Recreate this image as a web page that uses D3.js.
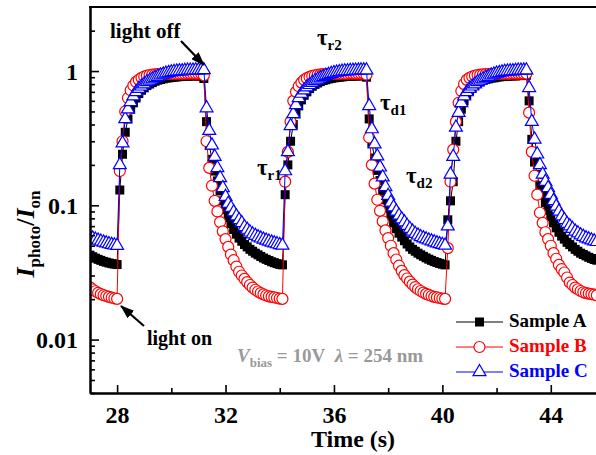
<!DOCTYPE html>
<html>
<head>
<meta charset="utf-8">
<script src="https://cdn.jsdelivr.net/npm/d3@7"></script>
<style>
  html, body { margin: 0; padding: 0; background: #fff; }
  svg { display: block; }
  text { font-family: "Liberation Serif", "Times New Roman", serif; font-weight: bold; }
</style>
</head>
<body>
<div id="chart"></div>
<script>
// time (s), one reading every 0.1 s
const time = [
  27.0,27.1,27.2,27.3,27.4,27.5,27.6,27.7,27.8,27.9,28.0,
  28.1,28.2,28.3,28.4,28.5,28.6,28.7,28.8,28.9,29.0,29.1,29.2,29.3,29.4,29.5,29.6,29.7,29.8,29.9,30.0,
  30.1,30.2,30.3,30.4,30.5,30.6,30.7,30.8,30.9,31.0,31.1,31.2,
  31.3,31.4,31.5,31.6,31.7,31.8,31.9,32.0,32.1,32.2,32.3,32.4,32.5,32.6,32.7,32.8,32.9,33.0,
  33.1,33.2,33.3,33.4,33.5,33.6,33.7,33.8,33.9,34.0,34.1,
  34.2,34.3,34.4,34.5,34.6,34.7,34.8,34.9,35.0,35.1,35.2,35.3,35.4,35.5,35.6,35.7,35.8,35.9,36.0,
  36.1,36.2,36.3,36.4,36.5,36.6,36.7,36.8,36.9,37.0,37.1,37.2,
  37.3,37.4,37.5,37.6,37.7,37.8,37.9,38.0,38.1,38.2,38.3,38.4,38.5,38.6,38.7,38.8,38.9,39.0,
  39.1,39.2,39.3,39.4,39.5,39.6,39.7,39.8,39.9,40.0,40.1,
  40.2,40.3,40.4,40.5,40.6,40.7,40.8,40.9,41.0,41.1,41.2,41.3,41.4,41.5,41.6,41.7,41.8,41.9,42.0,
  42.1,42.2,42.3,42.4,42.5,42.6,42.7,42.8,42.9,43.0,43.1,
  43.2,43.3,43.4,43.5,43.6,43.7,43.8,43.9,44.0,44.1,44.2,44.3,44.4,44.5,44.6,44.7,44.8,44.9,45.0,
  45.1,45.2,45.3,45.4,45.5,45.6,45.7
];

// I_photo / I_on for each sample
const sampleA = [
  0.0425,0.0414,0.0404,0.0396,0.0389,0.0382,0.0377,0.0372,0.0368,0.0365,0.0362,
  0.13,0.24,0.35,0.44,0.52,0.58,0.63,0.68,0.72,0.75,0.78,0.80,0.82,0.84,0.855,0.865,0.875,0.885,0.89,0.895,
  0.90,0.905,0.91,0.91,0.915,0.915,0.92,0.92,0.92,0.92,0.92,0.88,
  0.42,0.28,0.22,0.18,0.152,0.128,0.108,0.093,0.081,0.073,0.066,0.061,0.057,0.054,0.051,0.049,0.047,0.0455,
  0.044,0.0428,0.0416,0.0405,0.0396,0.0388,0.038,0.0374,0.0368,0.0363,0.036,
  0.12,0.2,0.3,0.4,0.48,0.55,0.61,0.66,0.7,0.74,0.77,0.795,0.815,0.835,0.85,0.862,0.873,0.882,0.89,
  0.895,0.9,0.905,0.91,0.912,0.915,0.918,0.92,0.92,0.922,0.922,0.9,
  0.44,0.29,0.225,0.182,0.153,0.129,0.11,0.095,0.083,0.074,0.067,0.062,0.058,0.0545,0.0515,0.049,0.047,0.0455,
  0.044,0.0428,0.0417,0.0406,0.0397,0.0389,0.0381,0.0375,0.0369,0.0364,0.036,
  0.078,0.108,0.15,0.3,0.42,0.52,0.6,0.66,0.71,0.75,0.78,0.81,0.83,0.85,0.865,0.875,0.885,0.89,0.9,
  0.905,0.91,0.91,0.915,0.92,0.92,0.92,0.925,0.925,0.93,0.93,
  0.6,0.31,0.21,0.17,0.14,0.12,0.105,0.092,0.082,0.074,0.068,0.063,0.059,0.056,0.053,0.051,0.049,0.047,0.0455,
  0.044,0.043,0.042,0.041,0.0402,0.0395,0.039
];
const sampleB = [
  0.0245,0.0236,0.0229,0.0223,0.0218,0.0214,0.0211,0.0208,0.0205,0.0203,0.0201,
  0.18,0.3,0.5,0.63,0.72,0.78,0.83,0.86,0.89,0.91,0.925,0.935,0.94,0.945,0.948,0.95,0.952,0.953,0.954,0.955,
  0.955,0.955,0.956,0.956,0.956,0.957,0.957,0.957,0.957,0.957,0.957,0.93,
  0.3,0.19,0.14,0.108,0.09,0.075,0.064,0.056,0.049,0.043,0.039,0.035,0.032,0.03,0.0283,0.0268,0.0255,0.0244,
  0.0235,0.0228,0.0222,0.0217,0.0213,0.021,0.0208,0.0206,0.0204,0.0202,0.0201,
  0.15,0.25,0.42,0.6,0.7,0.77,0.82,0.86,0.885,0.905,0.92,0.93,0.938,0.944,0.948,0.95,0.952,0.953,0.954,
  0.955,0.955,0.956,0.956,0.956,0.957,0.957,0.957,0.957,0.957,0.957,0.94,
  0.32,0.2,0.145,0.11,0.091,0.076,0.065,0.057,0.05,0.044,0.0395,0.0355,0.0325,0.0302,0.0285,0.027,0.0257,0.0246,
  0.0237,0.023,0.0224,0.0219,0.0215,0.0211,0.0208,0.0206,0.0204,0.0202,0.0201,
  0.048,0.15,0.26,0.42,0.58,0.71,0.8,0.86,0.89,0.91,0.925,0.935,0.94,0.945,0.948,0.95,0.952,0.953,0.954,
  0.955,0.955,0.956,0.956,0.956,0.957,0.957,0.957,0.957,0.957,0.957,
  0.49,0.25,0.166,0.12,0.088,0.074,0.063,0.056,0.05,0.044,0.04,0.036,0.0335,0.0316,0.029,0.0266,0.0255,0.0244,0.0237,
  0.023,0.0225,0.0222,0.022,0.0218,0.0216,0.0214
];
const sampleC = [
  0.058,0.0568,0.0557,0.0547,0.0538,0.053,0.0522,0.0515,0.0509,0.0504,0.05,
  0.2,0.29,0.44,0.52,0.59,0.65,0.7,0.74,0.77,0.8,0.83,0.85,0.87,0.89,0.91,0.93,0.945,0.96,0.97,0.98,
  0.99,0.995,1.0,1.0,1.005,1.01,1.01,1.01,1.015,1.015,1.015,1.02,
  0.53,0.36,0.28,0.23,0.19,0.16,0.135,0.116,0.103,0.096,0.089,0.083,0.078,0.074,0.069,0.066,0.063,0.061,
  0.0595,0.058,0.0568,0.0557,0.0547,0.0538,0.053,0.0522,0.0515,0.0508,0.0502,
  0.18,0.25,0.39,0.48,0.56,0.63,0.68,0.72,0.76,0.79,0.82,0.845,0.865,0.885,0.905,0.925,0.94,0.955,0.967,
  0.977,0.986,0.993,0.998,1.0,1.005,1.008,1.01,1.012,1.014,1.015,1.015,
  0.55,0.37,0.285,0.232,0.192,0.162,0.137,0.118,0.105,0.097,0.09,0.084,0.079,0.075,0.0705,0.067,0.064,0.0615,
  0.0598,0.0582,0.057,0.0559,0.0549,0.054,0.0531,0.0523,0.0516,0.0509,0.0503,
  0.07,0.17,0.23,0.38,0.49,0.58,0.65,0.7,0.74,0.77,0.8,0.83,0.85,0.87,0.89,0.91,0.93,0.945,0.96,
  0.97,0.98,0.99,0.995,1.0,1.0,1.005,1.01,1.01,1.012,1.015,
  0.75,0.42,0.31,0.24,0.2,0.17,0.15,0.135,0.12,0.108,0.098,0.09,0.083,0.078,0.073,0.07,0.067,0.064,0.062,
  0.06,0.0585,0.057,0.056,0.055,0.054,0.0535
];

const seriesNames = ["Sample A", "Sample B", "Sample C"];
const seriesColors = ["#000000", "#ff0000", "#0000ff"];
const xTicks = [28, 32, 36, 40, 44];
const xMinorTicks = [30, 34, 38, 42];
const yTicks = [0.01, 0.1, 1];
const yTickLabels = ["0.01", "0.1", "1"];
const yMinorTicks = [0.004,0.005,0.006,0.007,0.008,0.009,
                     0.02,0.03,0.04,0.05,0.06,0.07,0.08,0.09,
                     0.2,0.3,0.4,0.5,0.6,0.7,0.8,0.9,2];

const W = 596, H = 455;
const plotLeft = 90, plotTop = 7, plotBottom = 393;

const svg = d3.select("#chart").append("svg")
    .attr("width", W)
    .attr("height", H);

svg.append("rect").attr("width", W).attr("height", H).attr("fill", "#fff");

// scales
const x = d3.scaleLinear().domain([27, 46]).range([plotLeft, 605]);
const y = d3.scaleLog().domain([0.004, 3]).range([plotBottom, plotTop]);

const defs = svg.append("defs");
defs.append("clipPath").attr("id", "plot-clip")
    .append("rect")
    .attr("x", plotLeft).attr("y", plotTop)
    .attr("width", W - plotLeft).attr("height", plotBottom - plotTop);

// arrow head
defs.append("marker")
    .attr("id", "arrow")
    .attr("markerUnits", "userSpaceOnUse")
    .attr("markerWidth", 14).attr("markerHeight", 10)
    .attr("refX", 13).attr("refY", 5)
    .attr("orient", "auto")
    .append("path")
    .attr("d", "M0,0 L14,5 L0,10 Z")
    .attr("fill", "#000");

// data
const series = [sampleA, sampleB, sampleC].map((vals, i) => ({
    name: seriesNames[i],
    color: seriesColors[i],
    points: vals.map((v, j) => ({ t: time[j], v: v }))
}));

const line = d3.line()
    .x(d => x(d.t))
    .y(d => y(d.v));

const plot = svg.append("g").attr("clip-path", "url(#plot-clip)");

const triangle = d3.symbol().type(d3.symbolTriangle).size(72);

function drawMarker(sel, i) {
    if (i === 0) {
        sel.append("rect")
            .attr("x", -4.5).attr("y", -4.5)
            .attr("width", 9).attr("height", 9)
            .attr("fill", "#000");
    } else if (i === 1) {
        sel.append("circle")
            .attr("r", 5.5)
            .attr("fill", "#fff")
            .attr("stroke", seriesColors[1])
            .attr("stroke-width", 1.2);
    } else {
        sel.append("path")
            .attr("d", triangle())
            .attr("fill", "#fff")
            .attr("stroke", seriesColors[2])
            .attr("stroke-width", 1.2);
    }
}

series.forEach((s, i) => {
    const g = plot.append("g");
    g.append("path")
        .attr("d", line(s.points))
        .attr("fill", "none")
        .attr("stroke", s.color)
        .attr("stroke-width", 1);
    g.selectAll(".pt")
        .data(s.points)
        .enter()
        .append("g")
        .attr("class", "pt")
        .attr("transform", d => "translate(" + x(d.t) + "," + y(d.v) + ")")
        .each(function () { drawMarker(d3.select(this), i); });
});

// axes
svg.append("g")
    .attr("transform", "translate(0," + plotBottom + ")")
    .call(d3.axisBottom(x).tickValues(xTicks).tickSize(-8).tickSizeOuter(0).tickPadding(13));
svg.append("g")
    .attr("transform", "translate(0," + plotBottom + ")")
    .call(d3.axisBottom(x).tickValues(xMinorTicks).tickSize(-5).tickSizeOuter(0).tickFormat(""));

const yAxis = svg.append("g")
    .attr("transform", "translate(" + plotLeft + ",0)")
    .call(d3.axisLeft(y).tickValues(yTicks).tickSize(-9).tickSizeOuter(0).tickPadding(12)
        .tickFormat((d, i) => yTickLabels[i]));
svg.append("g")
    .attr("transform", "translate(" + plotLeft + ",0)")
    .call(d3.axisLeft(y).tickValues(yMinorTicks).tickSize(-5).tickSizeOuter(0).tickFormat(""));

svg.selectAll(".domain").attr("stroke", "#000").attr("stroke-width", 2);
svg.selectAll(".tick line").attr("stroke", "#000").attr("stroke-width", 1.6);
svg.selectAll(".tick text")
    .attr("font-family", "'Liberation Serif', 'Times New Roman', serif")
    .attr("font-weight", "bold")
    .attr("font-size", 24)
    .attr("fill", "#000");
yAxis.selectAll(".tick text").attr("dy", "0.34em");

// top frame line
svg.append("line")
    .attr("x1", plotLeft - 1).attr("x2", W)
    .attr("y1", plotTop).attr("y2", plotTop)
    .attr("stroke", "#000").attr("stroke-width", 2);

// axis titles
svg.append("text")
    .attr("x", 353).attr("y", 447)
    .attr("text-anchor", "middle")
    .attr("font-size", 24)
    .text("Time (s)");

const yTitle = svg.append("text")
    .attr("transform", "translate(34,234) rotate(-90)")
    .attr("text-anchor", "middle")
    .attr("font-size", 26);
yTitle.append("tspan").attr("font-style", "italic").text("I");
yTitle.append("tspan").attr("font-size", 17).attr("dy", 6).text("photo");
yTitle.append("tspan").attr("dy", -6).text("/");
yTitle.append("tspan").attr("font-style", "italic").text("I");
yTitle.append("tspan").attr("font-size", 17).attr("dy", 6).text("on");

// annotations
svg.append("text").attr("x", 110).attr("y", 38).attr("font-size", 21).text("light off");
svg.append("line")
    .attr("x1", 181).attr("y1", 41).attr("x2", 204).attr("y2", 65)
    .attr("stroke", "#000").attr("stroke-width", 2.2)
    .attr("marker-end", "url(#arrow)");

svg.append("text").attr("x", 147).attr("y", 345).attr("font-size", 20).text("light on");
svg.append("line")
    .attr("x1", 144).attr("y1", 326).attr("x2", 121).attr("y2", 306)
    .attr("stroke", "#000").attr("stroke-width", 2.2)
    .attr("marker-end", "url(#arrow)");

const tauLabels = [
    { sub: "r1", x: 257, y: 175 },
    { sub: "r2", x: 317, y: 45 },
    { sub: "d1", x: 380, y: 110 },
    { sub: "d2", x: 406, y: 183 }
];
tauLabels.forEach(d => {
    const t = svg.append("text").attr("x", d.x).attr("y", d.y).attr("font-size", 23);
    t.append("tspan").text("\u03c4");
    t.append("tspan").attr("font-size", 15).attr("dy", 5).text(d.sub);
});

const cond = svg.append("text")
    .attr("x", 237).attr("y", 362)
    .attr("font-size", 19)
    .attr("fill", "#999999");
cond.append("tspan").attr("font-style", "italic").text("V");
cond.append("tspan").attr("font-size", 13).attr("dy", 5).text("bias");
cond.append("tspan").attr("dy", -5).text(" = 10V\u00a0\u00a0");
cond.append("tspan").attr("font-style", "italic").text("\u03bb");
cond.append("tspan").text(" = 254 nm");

// legend
const legend = svg.append("g");
series.forEach((s, i) => {
    const ly = 322 + i * 25;
    const row = legend.append("g");
    row.append("line")
        .attr("x1", 456).attr("x2", 503)
        .attr("y1", ly).attr("y2", ly)
        .attr("stroke", s.color).attr("stroke-width", 1);
    const m = row.append("g").attr("transform", "translate(479.5," + ly + ")");
    drawMarker(m, i);
    row.append("text")
        .attr("x", 509).attr("y", ly + 5)
        .attr("font-size", 19)
        .attr("fill", s.color)
        .text(s.name);
});
</script>
</body>
</html>
